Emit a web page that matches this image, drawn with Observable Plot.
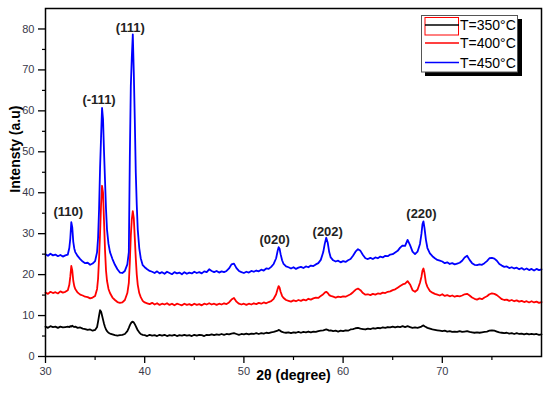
<!DOCTYPE html>
<html><head><meta charset="utf-8">
<script src="https://cdn.jsdelivr.net/npm/d3@7"></script>
<script src="https://cdn.jsdelivr.net/npm/@observablehq/plot@0.6"></script>
<style>
body{margin:0;background:#fff;}
#wrap{position:relative;width:550px;height:396px;font-family:"Liberation Sans",Arial,sans-serif;}
#legend{position:absolute;left:421px;top:15px;}
</style></head><body><div id="wrap"></div>
<script>
// 2θ sampling positions (degrees)
const twoTheta = [
30,30.25,30.5,30.75,31,31.25,31.5,31.75,32,32.25,
32.4,32.5,32.6,32.7,32.8,32.9,33.0,
33.25,33.5,33.75,34,34.25,34.5,34.75,35,35.2,
35.3,35.4,35.5,35.6,35.7,35.8,35.9,36.0,36.1,36.2,36.35,36.5,
36.75,37,37.25,37.5,37.75,38,38.25,38.4,
38.5,38.6,38.7,38.8,38.9,39.0,39.1,39.2,39.3,39.45,39.6,39.8,
40,40.25,40.5,40.75,41,41.25,41.5,41.75,42,42.25,42.5,42.75,43,43.25,43.5,43.75,44,44.25,44.5,44.75,45,45.25,45.5,45.75,46,46.25,46.5,46.75,47,47.25,47.5,47.75,48,48.25,48.5,48.75,49,49.25,49.5,49.75,50,50.25,50.5,50.75,51,51.25,51.5,51.75,52,52.25,52.5,52.75,53,53.25,
53.4,53.5,53.6,53.7,53.85,
54,54.25,54.5,54.75,55,55.25,55.5,55.75,56,56.25,56.5,56.75,57,57.25,57.5,57.75,58,
58.15,58.3,58.45,58.6,
58.75,59,59.25,59.5,59.75,60,60.25,60.5,60.75,61,61.25,61.5,61.75,62,62.25,62.5,62.75,63,63.25,63.5,63.75,64,64.25,64.5,64.75,65,65.25,65.5,65.75,66,66.25,66.5,66.75,67,67.25,67.5,67.75,
67.9,68.0,68.1,68.2,68.35,
68.5,68.75,69,69.25,69.5,69.75,70,70.25,70.5,70.75,71,71.25,71.5,71.75,72,72.25,72.5,72.75,73,73.25,73.5,73.75,74,74.25,74.5,74.75,75,75.25,75.5,75.75,76,76.25,76.5,76.75,77,77.25,77.5,77.75,78,78.25,78.5,78.75,79,79.25,79.5,79.75,80
];
// T=350°C
const int350 = [
7.3,7.0,7.4,7.2,7.3,7.0,7.3,7.1,7.2,7.3,
7.2,7.4,7.3,7.5,7.3,7.2,7.3,
7.0,7.1,6.8,6.7,6.5,6.6,6.3,6.5,7.2,
8.5,10.0,11.3,11.0,10.0,9.0,8.0,7.2,6.6,6.2,5.8,5.6,
5.4,5.2,5.1,5.2,5.3,5.5,6.2,7.0,
7.6,8.1,8.4,8.5,8.3,7.9,7.4,6.9,6.4,5.9,5.5,5.3,
5.2,5.0,5.3,5.1,5.2,5.0,5.3,5.1,5.3,5.0,5.2,5.1,5.3,5.0,5.2,5.1,5.3,5.1,5.2,5.0,5.3,5.1,5.3,5.2,5.0,5.3,5.2,5.4,5.2,5.4,5.3,5.5,5.3,5.5,5.4,5.6,5.7,5.5,5.3,5.5,5.4,5.6,5.4,5.6,5.5,5.7,5.5,5.7,5.6,5.8,5.7,5.9,6.0,6.2,
6.3,6.5,6.4,6.2,6.0,
5.9,5.8,5.9,5.7,5.9,5.8,6.0,5.8,6.0,5.9,6.1,5.9,6.1,6.0,6.2,6.3,6.4,
6.5,6.6,6.5,6.3,
6.4,6.2,6.3,6.1,6.3,6.2,6.4,6.3,6.6,6.7,6.9,7.0,6.8,6.7,6.6,6.8,6.7,6.9,6.8,7.0,6.9,7.1,7.0,7.2,7.1,7.3,7.1,7.3,7.2,7.4,7.2,7.4,7.2,7.0,7.1,7.0,7.2,
7.3,7.5,7.6,7.4,7.2,
7.0,6.8,6.6,6.5,6.4,6.3,6.2,6.3,6.1,6.2,6.0,6.1,6.0,6.2,6.0,6.1,6.2,6.0,5.9,5.8,5.9,5.8,5.9,6.0,6.1,6.3,6.4,6.3,6.1,5.9,5.8,5.7,5.8,5.6,5.7,5.5,5.7,5.5,5.6,5.4,5.6,5.4,5.5,5.4,5.5,5.3,5.4
];
// T=400°C
const int400 = [
15.6,15.3,15.8,15.5,15.7,15.4,15.9,15.6,15.8,16.2,
17.5,19.5,22.1,21.0,18.5,17.2,16.5,
15.6,15.1,14.9,14.6,14.5,14.2,14.4,14.8,16.5,
19.0,24.0,30.0,37.0,41.7,40.0,33.0,26.0,21.0,18.5,16.5,15.5,
14.4,13.8,13.3,13.1,13.2,13.8,15.5,18.0,
23.0,29.5,33.5,35.5,33.8,29.0,24.0,20.0,17.5,15.5,14.5,13.6,
13.2,13.0,12.8,13.1,12.7,13.0,12.6,12.9,12.7,13.0,12.6,12.9,12.5,12.9,12.7,12.5,12.9,12.6,12.8,12.5,12.9,12.6,12.8,12.5,12.9,12.7,13.0,12.7,12.9,12.6,12.9,12.7,13.0,12.8,13.2,13.9,14.3,13.4,12.9,12.7,12.9,12.6,12.9,12.7,13.0,12.8,13.1,12.9,13.2,13.0,13.3,13.5,14.1,15.2,
16.5,17.2,16.8,15.8,14.8,
14.3,13.8,13.6,13.4,13.7,13.5,13.8,13.6,13.9,13.7,14.1,13.9,14.2,14.4,14.3,14.8,15.2,
15.6,15.8,15.5,15.0,
14.8,14.6,14.4,14.6,14.5,14.7,14.6,14.9,15.2,15.7,16.3,16.6,16.2,15.5,15.1,15.2,15.0,15.3,15.1,15.4,15.3,15.6,15.5,15.8,15.9,16.2,16.4,16.8,17.2,17.6,17.8,18.4,17.6,16.2,15.8,16.3,18.0,
19.5,21.0,21.5,20.5,18.0,
17.0,16.0,15.6,15.3,15.1,14.9,15.2,14.8,15.0,14.7,14.9,14.6,14.8,14.7,14.9,15.2,15.3,14.9,14.4,14.1,13.9,14.2,14.0,14.4,14.7,15.2,15.4,15.3,15.0,14.5,14.0,13.8,13.9,13.6,13.8,13.5,13.7,13.4,13.6,13.3,13.5,13.2,13.5,13.2,13.4,13.1,13.3
];
// T=450°C
const int450 = [
25.0,24.6,25.1,24.7,24.9,24.5,24.8,24.4,24.7,24.9,
26.5,28.8,32.8,31.5,28.0,26.4,25.5,
24.5,23.8,23.2,22.8,22.9,22.4,22.7,23.3,25.5,
29.0,36.0,46.0,53.5,60.7,58.0,50.0,43.0,36.0,31.0,27.5,25.5,
23.8,22.4,21.3,20.5,20.4,20.9,22.5,25.5,
48.5,66.0,73.0,78.7,69.5,58.0,45.0,37.0,31.0,26.5,24.0,22.3,
21.8,21.3,20.9,20.7,20.4,20.8,20.3,20.6,20.2,20.7,20.4,20.1,20.6,20.3,20.5,20.1,20.6,20.2,20.5,20.3,20.7,20.4,20.6,20.3,20.8,20.6,21.3,20.9,20.6,20.9,20.5,20.8,20.6,20.9,21.5,22.5,22.7,21.6,20.9,20.6,20.4,20.7,20.5,20.9,20.7,21.0,20.8,21.2,21.0,21.5,21.4,21.9,22.6,24.0,
25.8,26.7,26.3,25.0,23.5,
22.6,22.0,21.8,21.5,21.8,21.4,21.7,21.9,21.6,22.0,21.8,22.2,22.1,22.5,22.8,23.6,25.5,
27.5,29.0,27.8,25.5,
24.2,23.5,23.2,23.4,23.0,23.3,23.1,23.5,23.8,24.6,25.6,26.2,25.8,24.8,24.0,23.8,24.1,23.8,24.2,24.0,24.4,24.2,24.6,24.5,24.9,25.0,25.4,25.8,26.6,27.1,27.0,28.5,27.2,25.6,25.0,25.6,27.5,
30.0,32.3,33.0,31.5,28.5,
26.5,25.2,24.5,24.0,23.6,23.4,23.2,22.8,23.0,22.6,22.8,22.5,22.7,22.9,23.4,24.2,24.6,23.6,22.8,22.4,22.3,22.5,22.4,22.8,23.3,24.0,24.1,23.9,23.4,22.6,22.2,21.9,22.0,21.6,21.8,21.5,21.7,21.3,21.6,21.2,21.5,21.1,21.4,21.0,21.4,21.1,21.3
];
const seriesNames = ["T=350°C","T=400°C","T=450°C"];
const seriesColors = ["#000000","#ff0000","#0000ff"];
const xTicks = [30,40,50,60,70];
const xMinorTicks = [35,45,55,65,75];
const yTicks = [0,10,20,30,40,50,60,70,80];
const yMinorTicks = [5,15,25,35,45,55,65,75];
const peakLabels = ["(110)","(-111)","(111)","(020)","(202)","(220)"];
const peakLabelX = [32.3,35.4,38.55,53.1,58.45,67.9];
const peakLabelY = [35.4,62.7,80.2,28.6,30.5,34.9];
const xLabel = "2θ (degree)";
const yLabel = "Intensty (a.u)";

const seriesValues = [int350,int400,int450];
seriesValues.forEach((v,k)=>{ if(v.length!==twoTheta.length) console.error("length mismatch", k, v.length, twoTheta.length); });
const rows = seriesValues.flatMap((vals,k)=>twoTheta.map((x,i)=>({x, y: vals[i], s: seriesNames[k]})).filter(d=>d.y!=null));

const chart = Plot.plot({
  width:550, height:396,
  marginLeft:45, marginRight:9, marginTop:8, marginBottom:40,
  x:{domain:[30,80]},
  y:{domain:[0,85]},
  color:{domain:seriesNames, range:seriesColors},
  style:{fontFamily:'"Liberation Sans", Arial, sans-serif', background:"white", overflow:"visible"},
  marks:[
    Plot.line(rows,{x:"x", y:"y", z:"s", stroke:"s", strokeWidth:1.8, strokeLinejoin:"round"}),
    Plot.frame({stroke:"#000", strokeWidth:1.5}),
    Plot.axisX(xTicks,{tickSize:7, tickPadding:4, fontSize:11, stroke:"#000", fill:"#3a3a4a", strokeWidth:1.3, label:null}),
    Plot.axisX(xMinorTicks,{tickSize:4, stroke:"#000", strokeWidth:1.2, tickFormat:()=>"", label:null}),
    Plot.axisY(yTicks,{tickSize:7, tickPadding:4, fontSize:11, stroke:"#000", fill:"#3a3a4a", strokeWidth:1.3, label:null}),
    Plot.axisY(yMinorTicks,{tickSize:3, stroke:"#000", strokeWidth:1.2, tickFormat:()=>"", label:null}),
    Plot.text(peakLabels,{x:(d,i)=>peakLabelX[i], y:(d,i)=>peakLabelY[i], text:d=>d, fontWeight:"bold", fontSize:13, fill:"#222"}),
    Plot.text([xLabel],{frameAnchor:"bottom", dy:23, text:d=>d, fontWeight:"bold", fontSize:14, fill:"#000"}),
    Plot.text([yLabel],{frameAnchor:"left", y:()=>40, dx:-30, rotate:-90, text:d=>d, fontWeight:"bold", fontSize:14, fill:"#000"})
  ]
});
const wrap = document.getElementById("wrap");
wrap.appendChild(chart);

// legend overlay
const ns = "http://www.w3.org/2000/svg";
const leg = document.createElementNS(ns,"svg");
leg.setAttribute("id","legend");
leg.setAttribute("width",104); leg.setAttribute("height",64);
const entryY = [10,28,47.5];
let html = `<rect x="4" y="4" width="97" height="57" fill="#000"/>
<rect x="0.5" y="0.5" width="96" height="56.5" fill="#fff" stroke="#555" stroke-width="1"/>
<rect x="4" y="2.5" width="33.5" height="17.5" fill="none" stroke="#ff0000" stroke-width="1"/>`;
seriesNames.forEach((n,i)=>{
  html += `<line x1="4" x2="38" y1="${entryY[i]}" y2="${entryY[i]}" stroke="${seriesColors[i]}" stroke-width="1.6"/>`;
  html += `<text x="39" y="${entryY[i]}" dy="0.36em" font-size="14" font-family="Liberation Sans, Arial, sans-serif" fill="#000">${n}</text>`;
});
leg.innerHTML = html;
wrap.appendChild(leg);
</script>
</body></html>
